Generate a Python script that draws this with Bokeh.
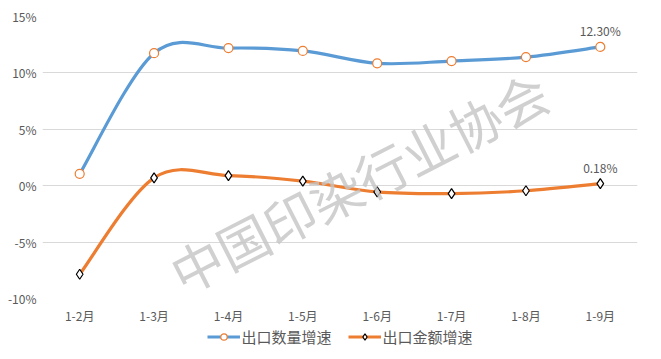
import math
from bokeh.plotting import figure
from bokeh.layouts import column
from bokeh.models import (Range1d, FixedTicker, PrintfTickFormatter, Legend, LegendItem,
                          Label, ColumnDataSource)
from bokeh.embed import file_html
from bokeh.resources import INLINE

months = ["1-2月", "1-3月", "1-4月", "1-5月", "1-6月", "1-7月", "1-8月", "1-9月"]
qty_growth = [1.05, 11.75, 12.2, 11.95, 10.85, 11.05, 11.4, 12.30]
amt_growth = [-7.85, 0.7, 0.9, 0.4, -0.55, -0.7, -0.45, 0.18]
series_names = ["出口数量增速", "出口金额增速"]
y_ticks = [-10, -5, 0, 5, 10, 15]

FONT = "Noto Sans CJK SC"
BLUE = "#5B9BD5"
ORANGE = "#ED7D31"
TXT = "#595959"

xs = list(range(len(months)))


def smooth_segments(x, y):
    n = len(x)
    d = dict(x0=[], y0=[], x1=[], y1=[], cx0=[], cy0=[], cx1=[], cy1=[])
    for i in range(n - 1):
        ip = i - 1 if i > 0 else i
        inn = i + 2 if i + 2 < n else i + 1
        d["x0"].append(x[i]); d["y0"].append(y[i])
        d["x1"].append(x[i + 1]); d["y1"].append(y[i + 1])
        d["cx0"].append(x[i] + (x[i + 1] - x[ip]) / 6)
        d["cy0"].append(y[i] + (y[i + 1] - y[ip]) / 6)
        d["cx1"].append(x[i + 1] - (x[inn] - x[i]) / 6)
        d["cy1"].append(y[i + 1] - (y[inn] - y[i]) / 6)
    return ColumnDataSource(d)


src_q = smooth_segments(xs, qty_growth)
src_a = smooth_segments(xs, amt_growth)
BZ = dict(x0="x0", y0="y0", x1="x1", y1="y1", cx0="cx0", cy0="cy0", cx1="cx1", cy1="cy1")


def draw_series(fig):
    b1 = fig.bezier(source=src_q, line_color=BLUE, line_width=3.2, **BZ)
    b2 = fig.bezier(source=src_a, line_color=ORANGE, line_width=3.2, **BZ)
    s1 = fig.scatter(xs, qty_growth, marker="circle", size=9, fill_color="white",
                     line_color=ORANGE, line_width=1.2)
    s2 = fig.scatter(xs, amt_growth, marker="diamond", size=10, fill_color="white",
                     line_color="black", line_width=1.2)
    return b1, b2, s1, s2


p = figure(frame_width=595, frame_height=282, output_backend="svg", toolbar_location=None,
           x_range=Range1d(-0.5, 7.5), y_range=Range1d(-10, 15),
           min_border_left=42, min_border_right=8, min_border_top=16, min_border_bottom=0)
p.outline_line_color = None
p.background_fill_color = "white"

# watermark
p.add_layout(Label(x=3.75, y=0.4, text="中国印染行业协会", angle=math.radians(27),
                   text_align="center", text_baseline="middle",
                   text_font=FONT, text_font_size="52px",
                   text_color="#c4c4c4", text_alpha=0.8))

draw_series(p)

# data labels for last point
last = len(months) - 1
p.text([xs[last], xs[last]], [qty_growth[last], amt_growth[last]],
       text=[f"{qty_growth[last]:.2f}%", f"{amt_growth[last]:.2f}%"],
       text_align="center", text_baseline="bottom", y_offset=-8,
       text_font_size="12px", text_color=TXT, text_font={"value": FONT})

p.xgrid.visible = False
p.ygrid.grid_line_color = "#d9d9d9"
p.ygrid.grid_line_width = 1
p.yaxis.ticker = FixedTicker(ticks=y_ticks)
p.yaxis.formatter = PrintfTickFormatter(format="%d%%")
p.xaxis.ticker = FixedTicker(ticks=xs)
p.xaxis.major_label_overrides = {i: m for i, m in enumerate(months)}
for ax in (p.xaxis, p.yaxis):
    ax.axis_line_color = None
    ax.major_tick_line_color = None
    ax.minor_tick_line_color = None
    ax.major_tick_in = 0
    ax.major_tick_out = 0
    ax.minor_tick_in = 0
    ax.minor_tick_out = 0
    ax.major_label_text_font = FONT
    ax.major_label_text_font_size = "12px"
    ax.major_label_text_color = TXT
p.yaxis.major_label_standoff = 6
p.xaxis.major_label_standoff = 8

# legend strip (separate figure, series drawn out of view, only legend visible)
lg = figure(width=645, height=20, output_backend="svg", toolbar_location=None,
            x_range=Range1d(1000, 1001), y_range=Range1d(1000, 1001),
            x_axis_location=None, y_axis_location=None, min_border=0)
lg.outline_line_color = None
lg.xgrid.visible = False
lg.ygrid.visible = False
lb1, lb2, ls1, ls2 = draw_series(lg)
legend = Legend(items=[LegendItem(label=series_names[0], renderers=[lb1, ls1]),
                       LegendItem(label=series_names[1], renderers=[lb2, ls2])],
                orientation="horizontal", location="center",
                label_text_font=FONT, label_text_font_size="15px", label_text_color=TXT,
                border_line_color=None, background_fill_alpha=0,
                glyph_width=33, glyph_height=16, label_height=16, label_standoff=2, spacing=16,
                padding=0, margin=0)
lg.add_layout(legend, "center")

open("out.html", "w").write(file_html(column(p, lg, spacing=0), INLINE))
